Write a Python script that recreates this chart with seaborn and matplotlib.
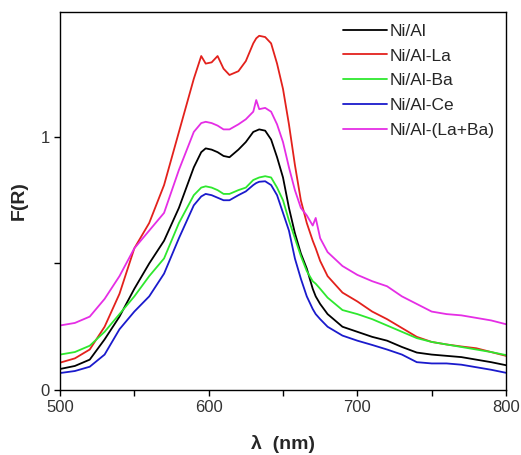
import numpy as np
import pandas as pd
import seaborn as sns
import matplotlib.pyplot as plt

# wavelength grid (nm) and F(R) values
wavelength = [500, 510, 520, 530, 540, 550, 560, 570, 580, 590, 595, 598, 602, 606, 610, 614,
              620, 625, 630, 632, 634, 638, 642, 646, 650, 654, 658, 662, 666, 670, 672, 675,
              680, 690, 700, 710, 720, 730, 740, 750, 760, 770, 780, 790, 800]

ni_al = [0.083, 0.095, 0.12, 0.20, 0.29, 0.40, 0.50, 0.59, 0.72, 0.88, 0.94, 0.955, 0.95, 0.94, 0.925, 0.92,
         0.95, 0.98, 1.02, 1.025, 1.03, 1.025, 0.99, 0.92, 0.84, 0.72, 0.62, 0.54, 0.48, 0.40, 0.37, 0.34,
         0.30, 0.25, 0.23, 0.21, 0.195, 0.17, 0.148, 0.14, 0.135, 0.13, 0.12, 0.11, 0.098]

ni_al_la = [0.108, 0.125, 0.16, 0.25, 0.38, 0.56, 0.66, 0.81, 1.02, 1.23, 1.32, 1.29, 1.295, 1.32, 1.27, 1.245,
            1.26, 1.30, 1.37, 1.39, 1.40, 1.395, 1.37, 1.29, 1.19, 1.05, 0.89, 0.75, 0.66, 0.59, 0.56, 0.51,
            0.45, 0.385, 0.35, 0.31, 0.28, 0.245, 0.21, 0.19, 0.18, 0.172, 0.165, 0.15, 0.135]

ni_al_ba = [0.14, 0.15, 0.175, 0.23, 0.30, 0.37, 0.45, 0.52, 0.66, 0.77, 0.80, 0.805, 0.80, 0.79, 0.775, 0.775,
            0.79, 0.80, 0.83, 0.835, 0.84, 0.845, 0.84, 0.80, 0.75, 0.67, 0.60, 0.53, 0.47, 0.43, 0.42, 0.40,
            0.365, 0.316, 0.30, 0.28, 0.255, 0.23, 0.205, 0.19, 0.18, 0.17, 0.16, 0.15, 0.138]

ni_al_ce = [0.067, 0.075, 0.092, 0.14, 0.24, 0.31, 0.37, 0.46, 0.60, 0.73, 0.765, 0.775, 0.77, 0.76, 0.75, 0.75,
            0.77, 0.785, 0.81, 0.818, 0.823, 0.825, 0.81, 0.77, 0.70, 0.63, 0.52, 0.44, 0.37, 0.32, 0.30, 0.28,
            0.25, 0.215, 0.195, 0.178, 0.16, 0.14, 0.11, 0.105, 0.105, 0.10, 0.09, 0.08, 0.068]

ni_al_la_ba = [0.255, 0.265, 0.29, 0.36, 0.45, 0.56, 0.63, 0.70, 0.87, 1.02, 1.055, 1.06, 1.055, 1.045, 1.03, 1.03,
               1.05, 1.07, 1.10, 1.146, 1.11, 1.115, 1.10, 1.05, 0.98, 0.88, 0.79, 0.72, 0.69, 0.65, 0.68, 0.60,
               0.545, 0.49, 0.455, 0.43, 0.41, 0.37, 0.34, 0.31, 0.30, 0.295, 0.285, 0.275, 0.26]

sample_names = ["Ni/Al", "Ni/Al-La", "Ni/Al-Ba", "Ni/Al-Ce", "Ni/Al-(La+Ba)"]
sample_values = [ni_al, ni_al_la, ni_al_ba, ni_al_ce, ni_al_la_ba]
colors = ["#000000", "#e3211c", "#2ee82e", "#1a1acc", "#e52ee5"]

frames = []
for name, vals in zip(sample_names, sample_values):
    frames.append(pd.DataFrame({"wavelength": wavelength, "F": vals, "sample": name}))
data = pd.concat(frames, ignore_index=True)

sns.set_theme(style="ticks")
plt.rcParams['font.family'] = ['Liberation Sans', 'DejaVu Sans']

fig = plt.figure(figsize=(5.21, 4.55), dpi=100)
ax = fig.add_axes([60 / 521, 65 / 455, 446 / 521, 378 / 455])

sns.lineplot(data=data, x="wavelength", y="F", hue="sample", hue_order=sample_names,
             palette=dict(zip(sample_names, colors)), estimator=None, linewidth=1.3, ax=ax)

ax.set_xlim(500, 800)
ax.set_ylim(0, 1.494)
ax.set_xticks([500, 600, 700, 800])
ax.set_xticks([550, 650, 750], minor=True)
ax.set_yticks([0, 1])
ax.set_yticks([0.5], minor=True)
ax.tick_params(which="both", direction="out", length=4, width=1, color="black",
               labelsize=12, labelcolor="#333333")
for sp in ax.spines.values():
    sp.set_linewidth(1.0)
    sp.set_color("black")

ax.set_xlabel("λ  (nm)", fontsize=14, fontweight="bold", labelpad=14)
ax.set_ylabel("F(R)", fontsize=14, fontweight="bold", labelpad=9)

sns.move_legend(ax, "upper left", bbox_to_anchor=(0.635, 0.969), title=None, frameon=False,
                fontsize=12.5, handlelength=2.5, handletextpad=0.2, labelspacing=0.55,
                borderpad=0, borderaxespad=0)

fig.savefig("out.png", dpi=100)
